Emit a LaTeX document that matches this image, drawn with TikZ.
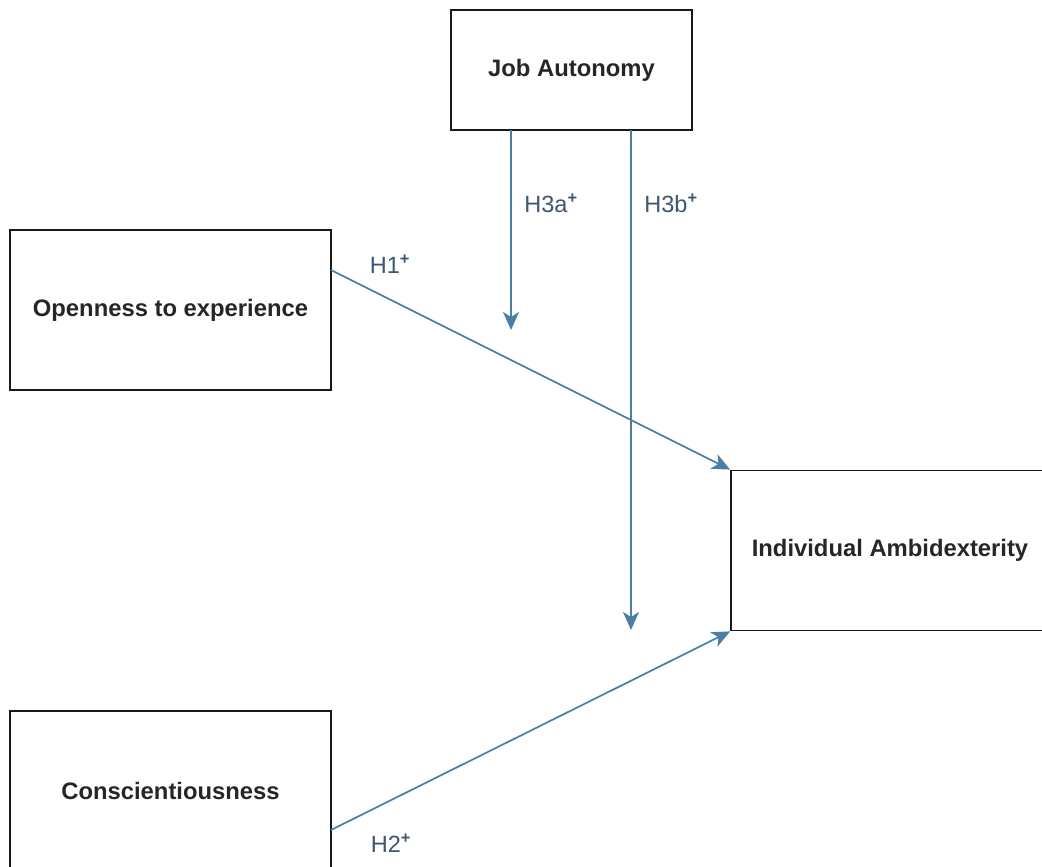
\documentclass[tikz,border=0pt]{standalone}
\usepackage{fontspec}
\setmainfont{Liberation Sans}
\usetikzlibrary{arrows.meta}
\definecolor{arrowblue}{HTML}{4A7EA4}
\definecolor{labelblue}{HTML}{3F5670}
\definecolor{boxtext}{HTML}{262626}
\newcommand{\supplus}{\textsuperscript{\bfseries +}}
\begin{document}
\begin{tikzpicture}[x=1pt,y=-1pt,
  box/.style={draw=black!90, line width=1.8pt, fill=white, inner sep=0pt,
    font=\fontsize{23.8}{28}\selectfont\bfseries, text=boxtext},
  link/.style={draw=arrowblue, line width=1.7pt,
    -{Stealth[length=18pt,width=16pt,inset=5pt]}},
  hlab/.style={text=labelblue, font=\fontsize{23.5}{28}\selectfont, inner sep=0pt}]
\clip (0,0) rectangle (1042,867);
\fill[white] (0,0) rectangle (1042,867);
\node[box, minimum width=241pt, minimum height=120pt] (job) at (571.5,70) {Job Autonomy};
\node[box, minimum width=321pt, minimum height=160pt] (open) at (170.5,310) {Openness to experience};
\node[box, minimum width=318pt, minimum height=160pt] (amb) at (890,550.5) {Individual Ambidexterity};
\node[box, minimum width=321pt, minimum height=159pt] (cons) at (170.5,790.5) {Conscientiousness};
\coordinate (h1s) at (331,270);
\coordinate (h2s) at (331,830);
\coordinate (h3as) at (511,130);
\coordinate (h3ae) at (511,330);
\coordinate (h3bs) at (631,130);
\coordinate (h3be) at (631,630);
\draw[link] (h1s) -- (amb.north west);
\draw[link] (h2s) -- (amb.south west);
\draw[link] (h3as) -- (h3ae);
\draw[link] (h3bs) -- (h3be);
\node[hlab] (l1) at (390,264) {H1\supplus};
\node[hlab] (l2) at (391,843) {H2\supplus};
\node[hlab] (l3a) at (551,203) {H3a\supplus};
\node[hlab] (l3b) at (671,203) {H3b\supplus};
\end{tikzpicture}
\end{document}
